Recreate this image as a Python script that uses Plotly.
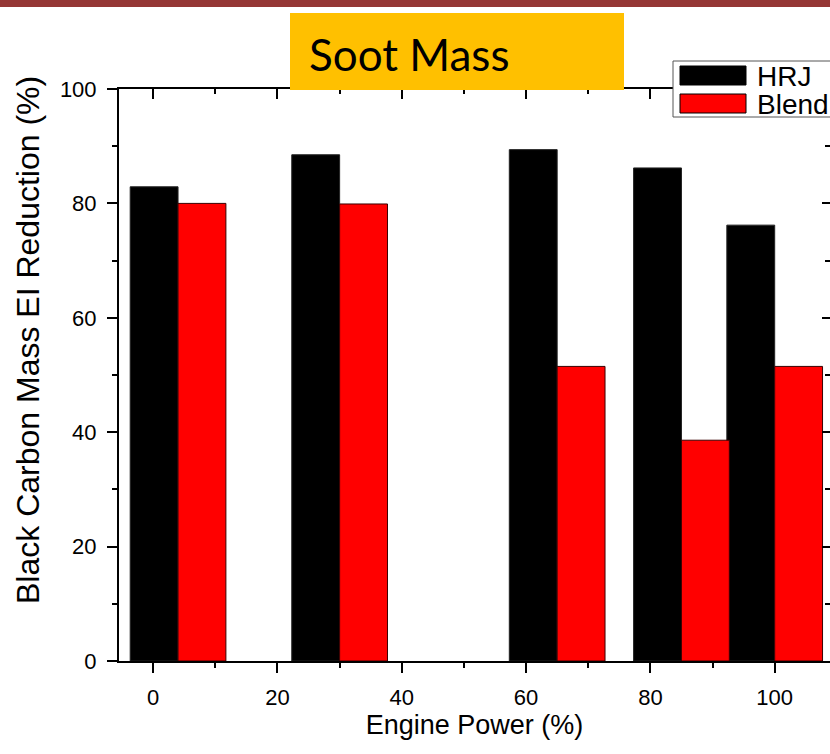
import plotly.graph_objects as go

# ---- data ----
engine_power = [4, 30, 65, 85, 100]
hrj = [82.9, 88.5, 89.4, 86.2, 76.2]
blend = [80.0, 79.9, 51.5, 38.6, 51.5]
x_tick_vals = [0, 20, 40, 60, 80, 100]
y_tick_vals = [0, 20, 40, 60, 80, 100]
series_names = ["HRJ", "Blend"]
title_text = "Soot Mass"
x_title = "Engine Power (%)"
y_title = "Black Carbon Mass EI Reduction (%)"

# ---- geometry helpers (pixel -> paper) ----
W, H = 830, 754
L, R, T, B = 119, 830, 89, 661
PW, PH = R - L, B - T


def xp(px):
    return (px - L) / PW


def yp(py):
    return (B - py) / PH


FONT = "Liberation Sans, Arial, sans-serif"
BAR_W = 7.7

fig = go.Figure()
fig.add_trace(go.Bar(
    x=engine_power, y=hrj, name=series_names[0],
    width=BAR_W, offset=-BAR_W,
    marker=dict(color="black", line=dict(color="#222222", width=1)),
    showlegend=False,
))
fig.add_trace(go.Bar(
    x=engine_power, y=blend, name=series_names[1],
    width=BAR_W, offset=0,
    marker=dict(color="#FF0000", line=dict(color="#3a0000", width=1)),
    showlegend=False,
))
# dummy trace for mirrored top/right axes
fig.add_trace(go.Scatter(x=[None], y=[None], xaxis="x2", yaxis="y2",
                         showlegend=False, hoverinfo="skip"))

common_axis = dict(showgrid=False, zeroline=False, showline=True,
                   linecolor="black", linewidth=2,
                   tickcolor="black", tickwidth=2)

fig.update_layout(
    width=W, height=H,
    margin=dict(l=L, r=W - R, t=T, b=H - B, pad=0),
    paper_bgcolor="white", plot_bgcolor="white",
    barmode="overlay",
    font=dict(family=FONT, color="black"),
    xaxis=dict(
        range=[-5.5, 108.9], tickvals=x_tick_vals, ticks="outside", ticklen=10,
        tickfont=dict(size=22, family=FONT, color="black"),
        ticklabelstandoff=6,
        minor=dict(dtick=10, tick0=0, ticks="outside", ticklen=5,
                   tickwidth=2, tickcolor="black"),
        title=dict(text=x_title, font=dict(size=27, family=FONT),
                   standoff=6),
        **common_axis,
    ),
    yaxis=dict(
        range=[0, 100], tickvals=y_tick_vals, ticks="outside", ticklen=10,
        tickfont=dict(size=22, family=FONT, color="black"),
        ticklabelstandoff=6,
        minor=dict(dtick=10, tick0=0, ticks="outside", ticklen=5,
                   tickwidth=2, tickcolor="black"),
        **common_axis,
    ),
    xaxis2=dict(
        overlaying="x", side="top", matches="x", tickvals=x_tick_vals,
        ticks="inside", ticklen=10, showticklabels=False,
        minor=dict(dtick=10, tick0=0, ticks="inside", ticklen=5,
                   tickwidth=2, tickcolor="black"),
        **common_axis,
    ),
    yaxis2=dict(
        overlaying="y", side="right", matches="y", tickvals=y_tick_vals,
        ticks="inside", ticklen=8, showticklabels=False,
        minor=dict(dtick=10, tick0=0, ticks="inside", ticklen=5,
                   tickwidth=2, tickcolor="black"),
        **common_axis,
    ),
    shapes=[
        # top slide stripe
        dict(type="rect", xref="paper", yref="paper", layer="above",
             x0=xp(0), x1=xp(R), y0=yp(7), y1=yp(-2),
             fillcolor="#953735", line=dict(width=0)),
        # title box
        dict(type="rect", xref="paper", yref="paper", layer="above",
             x0=xp(290), x1=xp(624), y0=yp(90), y1=yp(13),
             fillcolor="#FFC000", line=dict(width=0)),
        # legend box
        dict(type="rect", xref="paper", yref="paper", layer="above",
             x0=xp(673), x1=xp(845), y0=yp(117), y1=yp(61),
             fillcolor="white", line=dict(color="#555555", width=1)),
        dict(type="rect", xref="paper", yref="paper", layer="above",
             x0=xp(680), x1=xp(746), y0=yp(85), y1=yp(66),
             fillcolor="black", line=dict(color="black", width=1)),
        dict(type="rect", xref="paper", yref="paper", layer="above",
             x0=xp(680), x1=xp(746), y0=yp(113), y1=yp(94),
             fillcolor="#FF0000", line=dict(color="black", width=1)),
    ],
    annotations=[
        dict(text=y_title, xref="paper", yref="paper",
             x=xp(28), y=yp(340), xanchor="center", yanchor="middle",
             textangle=-90, showarrow=False,
             font=dict(family=FONT, size=32, color="black")),
        dict(text=title_text, xref="paper", yref="paper",
             x=xp(307), y=yp(54), xanchor="left", yanchor="middle",
             showarrow=False, font=dict(family="Lato, sans-serif", size=44,
                                        color="black")),
        dict(text=series_names[0], xref="paper", yref="paper",
             x=xp(755), y=yp(76), xanchor="left", yanchor="middle",
             showarrow=False, font=dict(family=FONT, size=28, color="black")),
        dict(text=series_names[1], xref="paper", yref="paper",
             x=xp(755), y=yp(104), xanchor="left", yanchor="middle",
             showarrow=False, font=dict(family=FONT, size=28, color="black")),
    ],
)

fig.write_html("out.html",
               config={"displayModeBar": False},
               post_script="document.body.style.margin='0';"
                           "document.body.style.overflow='hidden';")
